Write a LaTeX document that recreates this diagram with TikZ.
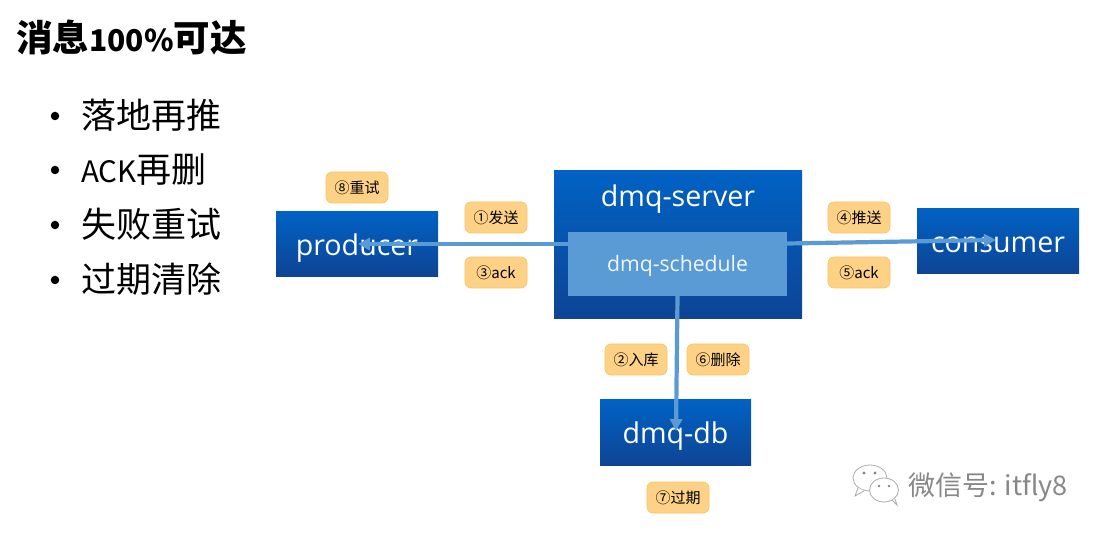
\documentclass[tikz,border=0pt]{standalone}
\usepackage{xcolor}
\usepackage{fontspec}
\setmainfont{Noto Sans CJK SC}
\newfontfamily\latinfont{Open Sans}
\usetikzlibrary{arrows.meta,positioning,calc,shapes.geometric}
\definecolor{clrT}{RGB}{0,98,196}
\definecolor{clrD}{RGB}{14,68,148}
\definecolor{clrS}{RGB}{91,155,213}
\definecolor{clrO}{RGB}{254,210,134}
\definecolor{clrE}{RGB}{250,195,90}
\definecolor{clrG}{RGB}{135,135,135}
\begin{document}
\begin{tikzpicture}[x=1pt,y=-1pt,
   bluebox/.style={rectangle,top color=clrT,bottom color=clrD,
     inner sep=0pt,text=white},
   boxtxt/.style={text=white,inner sep=0pt,font=\latinfont\fontsize{28.6}{32}\selectfont},
   schedbox/.style={rectangle,fill=clrS,inner sep=0pt},
   tag/.style={rectangle,rounded corners=6pt,fill=clrO,draw=clrE,line width=.6pt,
     minimum width=62pt,minimum height=31pt,inner sep=0pt,font=\fontsize{15}{18}\selectfont},
   ar/.style={-{Triangle[length=12pt,width=12pt]},line width=4.2pt,draw=clrS},
   bigtxt/.style={anchor=west,inner sep=0pt,font=\fontsize{35}{40}\selectfont},
   dot/.style={circle,fill=black,minimum size=8.5pt,inner sep=0pt}]

  \useasboundingbox (0,0) rectangle (1101,537);

  \node[anchor=west,inner sep=0pt,font=\bfseries\fontsize{36.5}{40}\selectfont] (title) at (16,38)
    {消息{\fontsize{30}{40}\selectfont 100\%}可达};

  \node[bigtxt] (b1) at (81,115.5) {落地再推};
  \node[bigtxt] (b2) at (81,170) {{\fontsize{29.5}{40}\selectfont ACK}再删};
  \node[bigtxt] (b3) at (81,224.5) {失败重试};
  \node[bigtxt] (b4) at (81,279.5) {过期清除};
  \node[dot] (d1) at (55,116) {};
  \node[dot] (d2) at (55,170) {};
  \node[dot] (d3) at (55,225) {};
  \node[dot] (d4) at (55,280) {};

  \node[bluebox,minimum width=162pt,minimum height=65pt] (producer) at (357,244.5) {};
  \node[boxtxt] (producertxt) at (357,248) {producer};
  \node[bluebox,minimum width=248pt,minimum height=148pt] (server) at (678,245) {};
  \node[boxtxt] (servertxt) at (678,199) {dmq-server};
  \node[schedbox,minimum width=219pt,minimum height=64pt] (schedule) at (677.5,264) {};
  \node[text=white!92!clrS,inner sep=0pt,font=\latinfont\fontsize{21.2}{24}\selectfont] (scheduletxt) at (677.5,266) {dmq-schedule};
  \node[bluebox,minimum width=162pt,minimum height=65pt] (consumer) at (998,241.5) {};
  \node[boxtxt] (consumertxt) at (998,245) {consumer};
  \node[bluebox,minimum width=151pt,minimum height=65pt] (db) at (675.5,432.5) {};
  \node[boxtxt] (dbtxt) at (675.5,436) {dmq-db};

  \node[tag] (t8) at (357,187.5) {⑧重试};
  \node[tag] (t1) at (496,217.5) {①发送};
  \node[tag] (t3) at (496,272.5) {③ack};
  \node[tag] (t4) at (859,217.5) {④推送};
  \node[tag] (t5) at (859,272.5) {⑤ack};
  \node[tag] (t2) at (636,359.5) {②入库};
  \node[tag] (t6) at (718,359.5) {⑥删除};
  \node[tag] (t7) at (678,497.5) {⑦过期};

  \coordinate (pend) at (358,244);
  \coordinate (cend) at (996,240);
  \coordinate (dend) at (676,431);
  \draw[ar] (schedule.west |- pend) -- (pend);
  \draw[ar] (schedule.east |- 0,243.5) -- (cend);
  \draw[ar] (schedule.south -| 677.5,0) -- (dend);

  % watermark
  \begin{scope}[draw=clrG!70,fill=white,line width=.8pt]
    \draw[fill=white] (870,478) ellipse (17 and 13);
    \draw[fill=white] (858,488) -- (855,496) -- (864,491);
    \draw[fill=white] (884,490) ellipse (14.5 and 12);
    \draw[fill=white] (892,500) -- (897,505) -- (895,499);
    \fill[clrG] (864,473) circle (1.6) (875,473) circle (1.6) (879,486) circle (1.4) (889,486) circle (1.4);
  \end{scope}
  \node[anchor=west,inner sep=0pt,text=clrG,font=\fontsize{27}{30}\selectfont] (mark) at (908,487) {微信号: itfly8};
\end{tikzpicture}
\end{document}
